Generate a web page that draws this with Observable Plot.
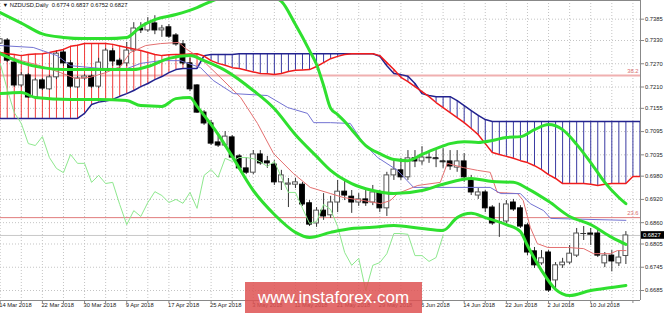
<!DOCTYPE html>
<html><head><meta charset="utf-8">
<script src="https://cdn.jsdelivr.net/npm/d3@7"></script>
<script src="https://cdn.jsdelivr.net/npm/@observablehq/plot@0.6"></script>
<style>
body{margin:0;background:#fff;}
#wrap{position:relative;width:665px;height:313px;overflow:hidden;background:#fff;}
#wm{position:absolute;left:245px;top:282px;width:177px;height:31px;background:rgba(222,82,82,0.85);color:#fff;font:17px "Liberation Sans",Arial,sans-serif;text-align:center;line-height:31px;}
</style></head><body><div id="wrap"><div id="wm">www.instaforex.com</div></div>
<script>
const symbol = "NZDUSD,Daily";
const labelBars = [0,6,12,18,24,30,36,42,48,54,60,66,72,78,84];
const labelTexts = ["14 Mar 2018","22 Mar 2018","30 Mar 2018","9 Apr 2018","17 Apr 2018","25 Apr 2018","3 May 2018","11 May 2018","21 May 2018","29 May 2018","6 Jun 2018","14 Jun 2018","22 Jun 2018","2 Jul 2018","10 Jul 2018"];
const yTicks = [0.7385,0.7330,0.7270,0.7210,0.7155,0.7095,0.7035,0.6980,0.6920,0.6860,0.6805,0.6745,0.6685];
const fibLabels = ["38.2","23.6"];
const fibValues = [0.7240,0.6873];

const open = [.7322,.7330,.7273,.7214,.7240,.7183,.7227,.7204,.7235,.7299,
.7271,.7209,.7232,.7237,.7211,.7253,.7302,.7278,.7271,.7304,
.7361,.7356,.7374,.7356,.7364,.7343,.7320,.7271,.7214,.7144,
.7116,.7067,.7059,.7080,.7031,.7000,.6989,.7036,.7018,.7010,
.6964,.6958,.6958,.6958,.6910,.6858,.6891,.6879,.6912,.6940,
.6927,.6912,.6920,.6912,.6938,.6897,.6982,.6995,.6977,.7026,
.7018,.7026,.7026,.7018,.7018,.7002,.7018,.6969,.6930,.6938,
.6899,.6863,.6863,.6912,.6897,.6853,.6786,.6755,.6783,.6711,
.6750,.6757,.6775,.6832,.6832,.6832,.6755,.6775,.6755,.6774];
const high = [.7335,.7335,.7278,.7247,.7245,.7232,.7232,.7240,.7304,.7307,
.7278,.7237,.7242,.7242,.7284,.7309,.7309,.7284,.7325,.7376,
.7376,.7389,.7394,.7369,.7371,.7348,.7330,.7284,.7216,.7149,
.7124,.7090,.7095,.7085,.7036,.7028,.7046,.7046,.7031,.7020,
.6995,.6974,.6974,.6964,.6917,.6899,.6935,.6928,.6969,.6969,
.6943,.6935,.6943,.6956,.6943,.6990,.7020,.7026,.7046,.7046,
.7056,.7041,.7046,.7051,.7046,.7046,.7038,.6982,.6948,.6943,
.6904,.6910,.6917,.6920,.6904,.6858,.6796,.6788,.6788,.6757,
.6768,.6801,.6845,.6850,.6845,.6845,.6783,.6788,.6788,.6837];
const low = [.7320,.7273,.7209,.7209,.7181,.7178,.7201,.7201,.7229,.7263,
.7206,.7206,.7227,.7206,.7206,.7247,.7263,.7258,.7263,.7299,
.7348,.7351,.7345,.7338,.7335,.7315,.7266,.7198,.7142,.7111,
.7059,.7054,.7054,.7026,.6995,.6984,.6984,.7008,.7000,.6956,
.6943,.6899,.6948,.6902,.6850,.6848,.6866,.6871,.6886,.6917,
.6884,.6902,.6902,.6904,.6886,.6876,.6969,.6969,.6969,.7002,
.7008,.7013,.7002,.7000,.6995,.6990,.6964,.6930,.6920,.6886,
.6853,.6822,.6858,.6889,.6845,.6775,.6742,.6750,.6680,.6690,
.6742,.6752,.6770,.6814,.6801,.6770,.6744,.6733,.6747,.6752];
const close = [.7333,.7278,.7214,.7240,.7183,.7227,.7206,.7235,.7296,.7271,
.7211,.7232,.7237,.7211,.7273,.7304,.7276,.7266,.7304,.7361,
.7356,.7374,.7356,.7361,.7340,.7320,.7271,.7204,.7144,.7116,
.7064,.7059,.7082,.7028,.7000,.6989,.7036,.7013,.7013,.6964,
.6982,.6961,.6964,.6907,.6855,.6891,.6876,.6912,.6940,.6930,
.6912,.6920,.6910,.6938,.6897,.6982,.6997,.6977,.7026,.7018,
.7028,.7028,.7025,.7017,.7005,.7018,.6977,.6938,.6938,.6897,
.6858,.6863,.6907,.6894,.6850,.6783,.6750,.6768,.6685,.6750,
.6757,.6780,.6832,.6832,.6830,.6775,.6775,.6760,.6770,.6827];

const senkouA = [.7299,.7296,.7294,.7291,.7294,.7295,.7296,.7299,.7303,.7307,
.7315,.7318,.7322,.7322,.7322,.7322,.7320,.7316,.7312,.7308,
.7304,.7299,.7294,.7291,.7293,.7294,.7294,.7295,.7296,.7290,
.7278,.7271,.7266,.7260,.7258,.7253,.7249,.7245,.7244,.7242,
.7245,.7250,.7253,.7254,.7255,.7263,.7273,.7283,.7289,.7294,
.7296,.7296,.7296,.7296,.7291,.7273,.7255,.7235,.7224,.7211,
.7198,.7185,.7170,.7157,.7144,.7131,.7118,.7103,.7087,.7064,
.7041,.7036,.7031,.7026,.7020,.7015,.7007,.6997,.6984,.6974,
.6961,.6961,.6961,.6961,.6959,.6956,.6959,.6961,.6961,.6961,
.6979,.6979];
const senkouB = [.7129,.7129,.7129,.7129,.7129,.7129,.7129,.7129,.7129,.7129,
.7129,.7129,.7142,.7165,.7171,.7174,.7178,.7186,.7193,.7201,
.7211,.7219,.7229,.7237,.7247,.7255,.7258,.7258,.7258,.7291,
.7294,.7294,.7294,.7294,.7296,.7296,.7296,.7296,.7296,.7296,
.7296,.7296,.7296,.7296,.7296,.7296,.7296,.7296,.7296,.7296,
.7296,.7296,.7296,.7296,.7289,.7265,.7245,.7242,.7238,.7219,
.7193,.7188,.7185,.7185,.7185,.7175,.7162,.7149,.7137,.7126,
.7121,.7121,.7121,.7121,.7121,.7121,.7121,.7121,.7121,.7121,
.7121,.7121,.7121,.7121,.7121,.7121,.7121,.7121,.7121,.7121,
.7121,.7121];

const tenkanX = [0,3,5.7,8.6,10.7,12.8,15,17.1,18.5,20.7,22.8,25.4,26.4,28.5,31.3,34.2,36.6,38.9,41.7,44.1,47,48.8,51.7,54.1,55.5,56.5,59.4,62.6,63.6,65.9,67.9,69.7,70.7,73.6,74.4,75.4,76.4,77.9,80.7,83,84.4,86.8,87.8,89];
const tenkanY = [.7296,.7278,.7265,.7247,.7232,.7235,.7247,.7263,.7299,.7317,.7322,.7325,.7309,.7284,.7235,.7183,.7116,.7038,.6987,.6951,.6935,.6925,.6917,.6909,.6917,.6935,.6956,.6964,.7013,.7002,.6995,.6990,.6938,.6935,.6917,.6848,.6806,.6796,.6796,.6793,.6780,.6780,.6788,.6788];
const kijunX = [0,4.7,8.1,10,14.3,18.1,20,22.8,25.6,28.5,30.3,33.2,38,40.9,43.7,44.6,47,49.8,51.7,53.7,56.5,58.8,69.7,71.2,74,75.4,77.3,78.3,89];
const kijunY = [.7317,.7312,.7291,.7265,.7258,.7258,.7271,.7278,.7278,.7260,.7227,.7193,.7188,.7157,.7142,.7118,.7118,.7116,.7064,.7028,.6995,.6951,.6951,.6935,.6935,.6909,.6891,.6871,.6866];
const chikouShift = 26;

const bbUpX = [0,3,6,9,12,15,18,20,22,25,28,30,33,35,37,39,40,42,44,45,46,47,48,49,50,52,54,56,58,60,62,64,66,68,70,72,74,76,78,80,82,84,86,88,89];
const bbUpY = [.7402,.7375,.7347,.7338,.7335,.7335,.7338,.7366,.7384,.7397,.7415,.7431,.7449,.7456,.7456,.7441,.7431,.7371,.7304,.7268,.7214,.7155,.7139,.7121,.7100,.7059,.7038,.7023,.7020,.7036,.7051,.7064,.7069,.7067,.7072,.7080,.7082,.7100,.7113,.7100,.7062,.7015,.6964,.6925,.6909];
const bbMidX = [0,3,6,9,14,19,21,24,27,29,32,36,39,42,45,47,50,53,56,60,63,67,70,73,75,78,81,84,87,89];
const bbMidY = [.7296,.7273,.7260,.7255,.7255,.7255,.7263,.7284,.7291,.7278,.7253,.7201,.7154,.7087,.7031,.6995,.6961,.6943,.6935,.6943,.6959,.6974,.6966,.6964,.6948,.6915,.6876,.6855,.6822,.6804];
const bbLowX = [0,3,5,10,14,18,20,23,25,27,28,31,33,36,39,42,44,47,50,53,56,60,63,65,67,69,72,74,75,77,79,81,84,87,89];
const bbLowY = [.7193,.7196,.7183,.7178,.7178,.7175,.7162,.7160,.7180,.7183,.7160,.7088,.7031,.6943,.6881,.6835,.6822,.6835,.6845,.6848,.6853,.6845,.6840,.6873,.6884,.6873,.6855,.6837,.6801,.6737,.6688,.6672,.6685,.6693,.6698];

// ---- build tables ----
const N = close.length;
const bars = d3.range(N).map(i => ({i, o: open[i], h: high[i], l: low[i], c: close[i]}));
const cloud = d3.range(senkouA.length).map(i => ({i, a: senkouA[i], b: senkouB[i]}));
const chikou = d3.range(N - chikouShift).map(i => ({x: i, y: close[i + chikouShift]}));
const pts = (xs, ys) => xs.map((x, k) => ({x, y: ys[k]}));
const fmt = d3.format(".4f");
const last = N - 1;
const header = `\u25BC ${symbol}  ${fmt(open[last])} ${fmt(high[last])} ${fmt(low[last])} ${fmt(close[last])}`;
const xDomain = [0.043, 91.08];
const yDomain = [0.66592, 0.74332];
const gridBars = d3.range(0, 92, 3);
const labelOf = d => labelTexts[labelBars.indexOf(d)];

const RED = "#f01c1c", NAVY = "#22228e", GREEN = "#2fe02f";
const grid = {stroke: "#c4c4c4", strokeOpacity: 1, strokeDasharray: "1,2"};
const W = 0.34;

const chart = Plot.plot({
  width: 665, height: 313,
  marginLeft: 0, marginRight: 25, marginTop: 0, marginBottom: 13,
  x: {domain: xDomain, axis: null},
  y: {domain: yDomain, axis: null},
  style: {background: "#fff", fontFamily: "'Liberation Sans', Arial, sans-serif", fontSize: "5.8px", color: "#222"},
  marks: [
    Plot.gridX(gridBars, grid),
    Plot.gridY(yTicks, grid),
    Plot.ruleY([fibValues[0]], {stroke: "#f0b0b0", strokeWidth: 2}),
    Plot.ruleY([fibValues[1]], {stroke: "#e07c7c", strokeWidth: 1}),
    Plot.ruleY([close[last]], {stroke: "#c8c8c8", strokeWidth: 1}),
    Plot.ruleX(cloud, {x: "i", y1: "a", y2: "b", stroke: d => d.a >= d.b ? "#f03a3a" : "#3a3aa2", strokeWidth: 1, clip: true}),
    Plot.ruleX(bars, {x: "i", y1: "l", y2: "h", stroke: "#333", strokeWidth: 1, clip: true}),
    Plot.rect(bars, {x1: d => d.i - W, x2: d => d.i + W, y1: "o", y2: "c",
      fill: d => d.c >= d.o ? "#fff" : "#000", stroke: d => d.c >= d.o ? "#555" : "#000", strokeWidth: 1, clip: true}),
    Plot.ruleY(bars.filter(d => Math.abs(d.c - d.o) < 0.00025), {y: "c", x1: d => d.i - W - 0.07, x2: d => d.i + W + 0.07, stroke: "#333", clip: true}),
    Plot.line(cloud, {x: "i", y: "b", stroke: NAVY, strokeWidth: 1.5, clip: true}),
    Plot.line(cloud, {x: "i", y: "a", stroke: RED, strokeWidth: 1.5, clip: true}),
    Plot.line(pts(tenkanX, tenkanY), {x: "x", y: "y", stroke: "#e47070", strokeWidth: 1, clip: true}),
    Plot.line(pts(kijunX, kijunY), {x: "x", y: "y", stroke: "#7272d2", strokeWidth: 1, clip: true}),
    Plot.line(chikou, {x: "x", y: "y", stroke: "#8ee88e", strokeWidth: 1, clip: true}),
    Plot.line(pts(bbUpX, bbUpY), {x: "x", y: "y", stroke: GREEN, strokeWidth: 3, curve: "monotone-x", clip: true}),
    Plot.line(pts(bbMidX, bbMidY), {x: "x", y: "y", stroke: GREEN, strokeWidth: 3, curve: "monotone-x", clip: true}),
    Plot.line(pts(bbLowX, bbLowY), {x: "x", y: "y", stroke: GREEN, strokeWidth: 3, curve: "monotone-x", clip: true}),
    Plot.text(fibValues, {x: xDomain[1], y: d => d, text: (d, i) => fibLabels[i], textAnchor: "end", dx: -2, dy: -4, fill: "#d97070"}),
    Plot.ruleY([yDomain[1]], {stroke: "#888"}),
    Plot.ruleY([yDomain[0]], {stroke: "#888"}),
    Plot.ruleX([xDomain[1]], {stroke: "#888"}),
    Plot.axisY(yTicks, {anchor: "right", tickSize: 3, tickPadding: 1.5, tickFormat: fmt, stroke: "#888", fill: "#222"}),
    Plot.axisX(gridBars, {anchor: "bottom", tickSize: 3, tickFormat: () => "", stroke: "#888"}),
    Plot.axisX(labelBars, {anchor: "bottom", tickSize: 0, tickPadding: 2.5, tickFormat: labelOf, textAnchor: "start", dx: -1, fill: "#222"}),
    Plot.text([header], {frameAnchor: "top-left", text: d => d, dx: 2, dy: 2.5, lineAnchor: "top", textAnchor: "start", fill: "#111"})
  ]
});

// current price tag on the right axis
const ns = "http://www.w3.org/2000/svg";
const yPix = chart.scale("y").apply(close[last]);
const g = document.createElementNS(ns, "g");
const r = document.createElementNS(ns, "rect");
r.setAttribute("x", 641); r.setAttribute("y", yPix - 3.8); r.setAttribute("width", 23); r.setAttribute("height", 7.6); r.setAttribute("fill", "#000");
const t = document.createElementNS(ns, "text");
t.setAttribute("x", 643); t.setAttribute("y", yPix); t.setAttribute("dy", "0.35em"); t.setAttribute("fill", "#fff");
t.setAttribute("text-anchor", "start");
t.setAttribute("font-size", "5.8px"); t.textContent = fmt(close[last]);
g.appendChild(r); g.appendChild(t);
chart.appendChild(g);

const wrap = document.getElementById("wrap");
wrap.insertBefore(chart, wrap.firstChild);
chart.style.position = "absolute"; chart.style.left = "0"; chart.style.top = "0";
</script>
</body></html>
